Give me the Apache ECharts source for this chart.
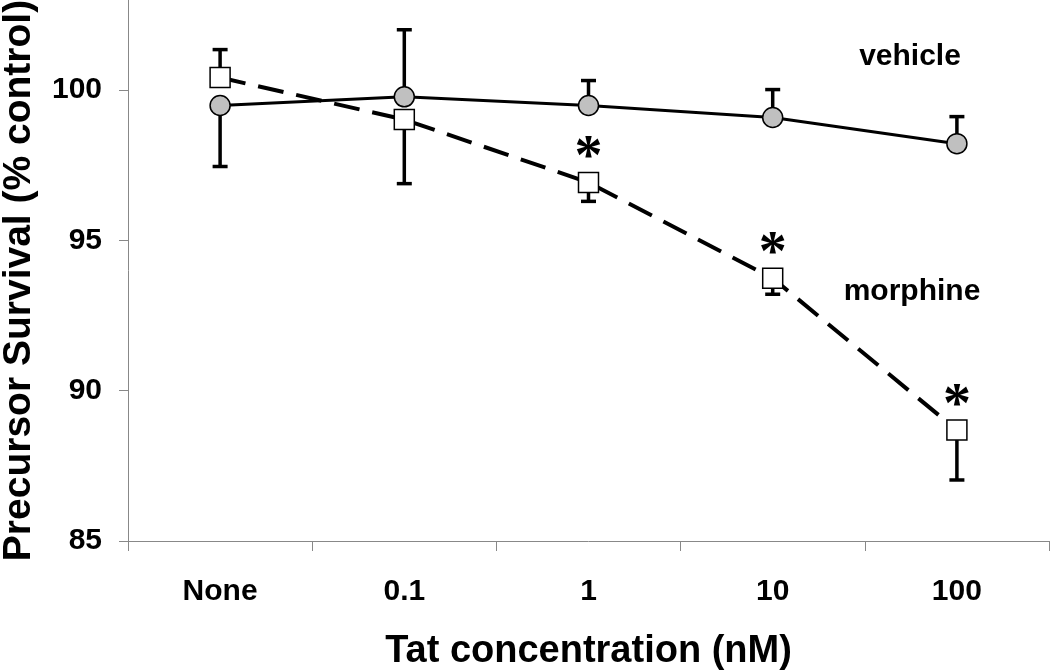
<!DOCTYPE html>
<html>
<head>
<meta charset="utf-8">
<script src="https://cdn.jsdelivr.net/npm/echarts@6/dist/echarts.min.js"></script>
<style>
html,body{margin:0;padding:0;background:#fff;}
#chart{width:1050px;height:672px;}
</style>
</head>
<body>
<div id="chart"></div>
<script>
const categories = ['None', '0.1', '1', '10', '100'];
const vehicle = [99.49, 99.78, 99.49, 99.09, 98.22];
const vehicleErr = [2.03, 2.23, 0.83, 0.93, 0.90];
const vehicleErrDir = [-1, 1, 1, 1, 1];
const morphine = [100.42, 99.02, 96.93, 93.74, 88.69];
const morphineErr = [0.93, 2.13, 0.63, 0.53, 1.66];
const morphineErrDir = [1, -1, -1, -1, -1];
const significant = [false, false, true, true, true];
const yTicks = [85, 90, 95, 100];
const seriesNames = ['vehicle', 'morphine'];

const FONT = '"Liberation Sans", Arial, sans-serif';

function errData(vals, errs, dirs) {
  return vals.map((v, i) => [i, v, v + dirs[i] * errs[i]]);
}
const errorData = errData(vehicle, vehicleErr, vehicleErrDir)
  .concat(errData(morphine, morphineErr, morphineErrDir));

const chart = echarts.init(document.getElementById('chart'), null, {renderer: 'canvas'});
chart.setOption({
  animation: false,
  backgroundColor: '#fff',
  grid: {left: 128, right: 1, top: 0, bottom: 131, containLabel: false, outerBoundsMode: 'none'},
  xAxis: {
    type: 'category',
    data: categories,
    boundaryGap: true,
    axisLine: {show: true, lineStyle: {color: '#888', width: 1}},
    axisTick: {show: true, length: 10, lineStyle: {color: '#888', width: 1}},
    axisLabel: {fontSize: 30, fontWeight: 'bold', color: '#000', margin: 36, fontFamily: FONT},
    splitLine: {show: false},
    name: 'Tat concentration (nM)',
    nameLocation: 'middle',
    nameGap: 92,
    nameTextStyle: {fontSize: 38, fontWeight: 'bold', color: '#000', fontFamily: FONT}
  },
  yAxis: {
    type: 'value',
    min: 85,
    max: 103,
    interval: 5,
    axisLine: {show: true, lineStyle: {color: '#888', width: 1}},
    axisTick: {show: true, length: 9, customValues: yTicks, lineStyle: {color: '#888', width: 1}},
    axisLabel: {
      fontSize: 30, fontWeight: 'bold', color: '#000', margin: 26, fontFamily: FONT,
      customValues: yTicks,
      formatter: v => (yTicks.indexOf(v) >= 0 ? String(v) : '')
    },
    splitLine: {show: false},
    name: 'Precursor Survival (% control)',
    nameLocation: 'middle',
    nameGap: 89,
    nameTextStyle: {fontSize: 39, fontWeight: 'bold', color: '#000', fontFamily: FONT, padding: [0, 20, 0, 0]}
  },
  graphic: [
    {type: 'text', x: 910, y: 57, style: {text: seriesNames[0], font: 'bold 30px ' + FONT, fill: '#000', align: 'center', verticalAlign: 'middle'}},
    {type: 'text', x: 912, y: 292, style: {text: seriesNames[1], font: 'bold 30px ' + FONT, fill: '#000', align: 'center', verticalAlign: 'middle'}}
  ],
  series: [
    {
      type: 'custom',
      name: 'errors',
      z: 1,
      data: errorData,
      renderItem: function (params, api) {
        const i = api.value(0);
        const p0 = api.coord([i, api.value(1)]);
        const p1 = api.coord([i, api.value(2)]);
        const style = {stroke: '#000', lineWidth: 3.5};
        return {
          type: 'group',
          children: [
            {type: 'line', shape: {x1: p0[0], y1: p0[1], x2: p1[0], y2: p1[1]}, style: style},
            {type: 'line', shape: {x1: p1[0] - 7.5, y1: p1[1], x2: p1[0] + 7.5, y2: p1[1]}, style: style}
          ]
        };
      }
    },
    {
      type: 'line',
      name: seriesNames[0],
      z: 3,
      data: vehicle,
      symbol: 'circle',
      symbolSize: 20,
      itemStyle: {color: '#c0c0c0', borderColor: '#000', borderWidth: 1.5},
      lineStyle: {color: '#000', width: 3}
    },
    {
      type: 'line',
      name: seriesNames[1],
      z: 3,
      data: morphine.map((v, i) => ({
        value: v,
        label: {
          show: significant[i],
          formatter: '*',
          position: 'top',
          distance: -16,
          fontSize: 56,
          fontWeight: 'bold',
          fontFamily: '"Liberation Serif", "Times New Roman", serif',
          color: '#000'
        }
      })),
      symbol: 'rect',
      symbolSize: 20,
      itemStyle: {color: '#fff', borderColor: '#000', borderWidth: 1.5},
      lineStyle: {color: '#000', width: 4, type: [26, 13]}
    }
  ]
});
</script>
</body>
</html>
